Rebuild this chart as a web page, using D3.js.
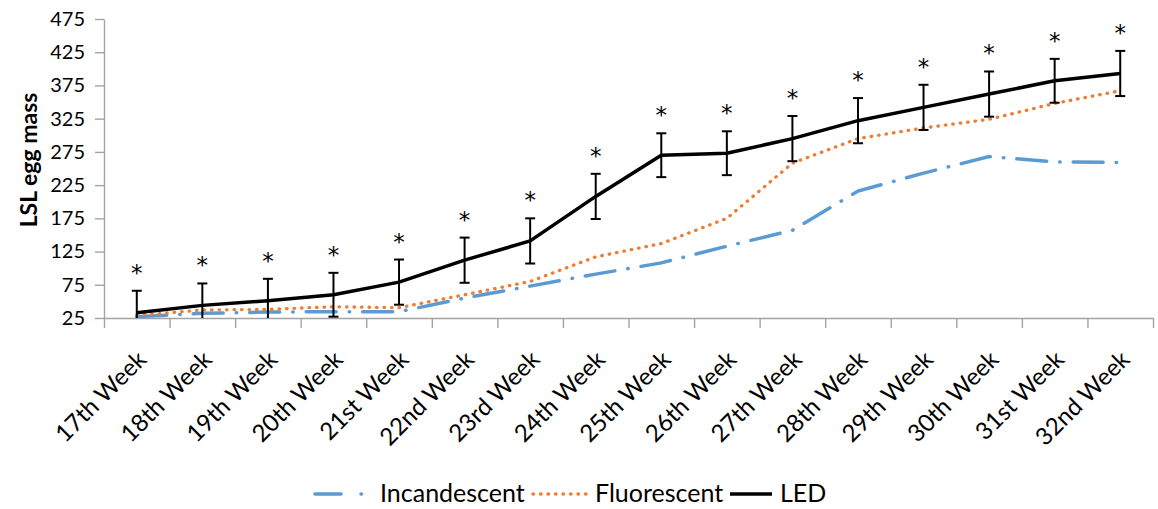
<!DOCTYPE html>
<html>
<head>
<meta charset="utf-8">
<script src="https://cdn.jsdelivr.net/npm/d3@7"></script>
<style>
  html, body { margin: 0; padding: 0; background: #fff; }
  svg { display: block; }
  text { font-family: Lato, "Open Sans", sans-serif; fill: #000; }
</style>
</head>
<body>
<script>
// Weekly LSL egg mass under three lighting types
const weeks = ["17th Week","18th Week","19th Week","20th Week","21st Week","22nd Week","23rd Week","24th Week",
               "25th Week","26th Week","27th Week","28th Week","29th Week","30th Week","31st Week","32nd Week"];
const incandescent = [27, 32, 34, 34.5, 34.5, 55, 73, 91, 108, 133, 157, 216, 243, 268, 260, 259];
const fluorescent  = [29, 37, 38, 42, 40.5, 60, 80, 117, 137, 175, 258, 295, 311, 324, 348, 367];
const led          = [33, 44, 51, 60, 79, 112, 141, 208, 270, 273, 295, 322, 342, 362, 382, 393];
const ledError     = [33, 33, 33, 33, 34, 34, 34, 34, 33, 33, 34, 34, 34, 34, 33, 34];
const significant  = ["*","*","*","*","*","*","*","*","*","*","*","*","*","*","*","*"];
const yTicks       = [25, 75, 125, 175, 225, 275, 325, 375, 425, 475];
const seriesNames  = ["Incandescent", "Fluorescent", "LED"];

const W = 1158, H = 509;
const plot = { left: 104, right: 1153, top: 19, bottom: 318 };
const axisColor = "#a3a3a3";

const svg = d3.select("body").append("svg").attr("width", W).attr("height", H);

const x = d3.scaleBand().domain(weeks).range([plot.left, plot.right]).padding(0);
const cx = d => x(d) + x.bandwidth() / 2;
const y = d3.scaleLinear().domain([25, 475]).range([plot.bottom, plot.top]);

svg.append("defs").append("clipPath").attr("id", "plot-area")
  .append("rect").attr("x", plot.left).attr("y", plot.top)
  .attr("width", plot.right - plot.left).attr("height", plot.bottom - plot.top);

// Y axis
const yAxis = svg.append("g").attr("transform", `translate(${plot.left},0)`)
  .call(d3.axisLeft(y).tickValues(yTicks).tickSize(9).tickSizeOuter(0).tickPadding(10));
yAxis.select(".domain").attr("stroke", axisColor).attr("stroke-width", 1.4);
yAxis.selectAll(".tick line").attr("stroke", axisColor).attr("stroke-width", 1.4);
yAxis.selectAll(".tick text").style("font-size", "20px").style("font-family", "Lato, sans-serif").attr("fill", "#000");

// X axis: ticks on category boundaries, labels at category centres
const edges = d3.scaleLinear().domain([0, weeks.length]).range([plot.left, plot.right]);
const xAxis = svg.append("g").attr("transform", `translate(0,${plot.bottom})`)
  .call(d3.axisBottom(edges).tickValues(d3.range(weeks.length + 1)).tickSize(10).tickSizeOuter(0).tickFormat(""));
xAxis.select(".domain").attr("stroke", axisColor).attr("stroke-width", 1.4);
xAxis.selectAll(".tick line").attr("stroke", axisColor).attr("stroke-width", 1.4);

svg.append("g").selectAll("text").data(weeks).join("text")
  .attr("text-anchor", "end")
  .attr("transform", d => `translate(${cx(d) + 11},${plot.bottom + 43}) rotate(-45)`)
  .style("font-size", "24px")
  .text(d => d);

// Y axis title
svg.append("text")
  .attr("transform", `translate(37,160) rotate(-90)`)
  .attr("text-anchor", "middle")
  .style("font-size", "23px").style("font-weight", "bold")
  .text("LSL egg mass");

// Series lines
const line = d3.line().x((d, i) => cx(weeks[i])).y(d => y(d));
const lines = svg.append("g").attr("clip-path", "url(#plot-area)");

lines.append("path").datum(incandescent)
  .attr("fill", "none").attr("stroke", "#5b9bd5").attr("stroke-width", 3.5)
  .attr("stroke-linecap", "round").attr("stroke-dasharray", "30,13,0.5,13")
  .attr("d", line);

lines.append("path").datum(fluorescent)
  .attr("fill", "none").attr("stroke", "#ed7d31").attr("stroke-width", 3.3)
  .attr("stroke-linecap", "round").attr("stroke-dasharray", "0.5,7")
  .attr("d", line);

lines.append("path").datum(led)
  .attr("fill", "none").attr("stroke", "#000").attr("stroke-width", 3.5)
  .attr("stroke-linejoin", "round")
  .attr("d", line);

// LED error bars
const bars = svg.append("g").attr("clip-path", "url(#plot-area)")
  .attr("stroke", "#000").attr("stroke-width", 2);
const capHalf = 5;
weeks.forEach((w, i) => {
  const xc = cx(w), top = y(led[i] + ledError[i]), bot = y(led[i] - ledError[i]);
  bars.append("line").attr("x1", xc).attr("x2", xc).attr("y1", top).attr("y2", bot);
  bars.append("line").attr("x1", xc - capHalf).attr("x2", xc + capHalf).attr("y1", top).attr("y2", top);
  bars.append("line").attr("x1", xc - capHalf).attr("x2", xc + capHalf).attr("y1", bot).attr("y2", bot);
});

// Significance marks above the error bars
svg.append("g").selectAll("text").data(weeks).join("text")
  .attr("x", d => cx(d))
  .attr("y", (d, i) => y(led[i] + ledError[i]) - 10)
  .attr("text-anchor", "middle")
  .style("font-family", "'DejaVu Sans', sans-serif")
  .style("font-size", "23px")
  .text((d, i) => significant[i]);

// Legend
const legendY = 494, legendBase = 502;
const legend = svg.append("g");
legend.append("line").attr("x1", 315).attr("x2", 366).attr("y1", legendY).attr("y2", legendY)
  .attr("stroke", "#5b9bd5").attr("stroke-width", 3.5).attr("stroke-linecap", "round")
  .attr("stroke-dasharray", "26,20,0.5,30");
legend.append("text").attr("x", 380).attr("y", legendBase).style("font-size", "25px").text(seriesNames[0]);
legend.append("line").attr("x1", 533).attr("x2", 586).attr("y1", legendY).attr("y2", legendY)
  .attr("stroke", "#ed7d31").attr("stroke-width", 3.3).attr("stroke-linecap", "round")
  .attr("stroke-dasharray", "0.5,7");
legend.append("text").attr("x", 595).attr("y", legendBase).style("font-size", "25px").text(seriesNames[1]);
legend.append("line").attr("x1", 730).attr("x2", 772).attr("y1", legendY).attr("y2", legendY)
  .attr("stroke", "#000").attr("stroke-width", 3.5);
legend.append("text").attr("x", 780).attr("y", legendBase).style("font-size", "25px").text(seriesNames[2]);
</script>
</body>
</html>
